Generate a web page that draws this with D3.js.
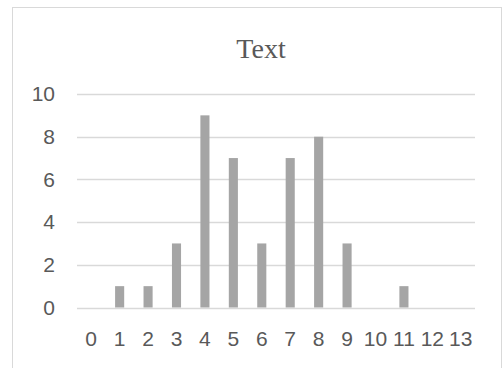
<!DOCTYPE html>
<html>
<head>
<meta charset="utf-8">
<script src="https://cdn.jsdelivr.net/npm/d3@7"></script>
<style>
  html, body { margin: 0; padding: 0; background: #fff; }
  svg { display: block; }
</style>
</head>
<body>
<svg id="chart" width="502" height="368"></svg>
<script>
// Chart data
const categories = ["0","1","2","3","4","5","6","7","8","9","10","11","12","13"];
const values = [0, 1, 1, 3, 9, 7, 3, 7, 8, 3, 0, 1, 0, 0];
const yTicks = [0, 2, 4, 6, 8, 10];
const titleText = "Text";

const svg = d3.select("#chart");
const plot = { left: 77, right: 475, top: 94, bottom: 307.5 };
const labelFont = "'Liberation Sans', Arial, sans-serif";

// Outer frame
svg.append("rect")
  .attr("x", 12.5).attr("y", 7.5)
  .attr("width", 489).attr("height", 370)
  .attr("fill", "#fff").attr("stroke", "#d9d9d9").attr("stroke-width", 1);

const x = d3.scaleBand()
  .domain(categories)
  .range([plot.left, plot.right])
  .paddingInner(0.68)
  .paddingOuter(0.34);

const y = d3.scaleLinear()
  .domain([0, 10])
  .range([plot.bottom, plot.top]);

// Horizontal gridlines
svg.append("g")
  .selectAll("line")
  .data(yTicks)
  .join("line")
  .attr("x1", plot.left).attr("x2", plot.right)
  .attr("y1", d => Math.round(y(d)) + 0.5)
  .attr("y2", d => Math.round(y(d)) + 0.5)
  .attr("stroke", "#d9d9d9").attr("stroke-width", 1.3);

// Y axis labels
const yAxis = d3.axisLeft(y).tickValues(yTicks).tickSize(0).tickPadding(0);
const gy = svg.append("g").attr("transform", "translate(55,0)").call(yAxis);
gy.select(".domain").remove();
gy.selectAll("text")
  .attr("fill", "#595959")
  .style("font-family", labelFont)
  .style("font-size", "21px");

// Bars
svg.append("g")
  .selectAll("rect")
  .data(values)
  .join("rect")
  .attr("x", (d, i) => x(categories[i]))
  .attr("width", x.bandwidth())
  .attr("y", d => y(d))
  .attr("height", d => y(0) - y(d))
  .attr("fill", "#a5a5a5");

// X axis labels
const xAxis = d3.axisBottom(x).tickSize(0).tickPadding(0);
const gx = svg.append("g").attr("transform", "translate(0,331)").call(xAxis);
gx.select(".domain").remove();
gx.selectAll("text")
  .attr("fill", "#595959")
  .style("font-family", labelFont)
  .style("font-size", "21px");

// Title
svg.append("text")
  .attr("x", 261).attr("y", 58)
  .attr("text-anchor", "middle")
  .attr("fill", "#595959")
  .style("font-family", "'Liberation Serif', 'Times New Roman', serif")
  .style("font-size", "28px")
  .text(titleText);
</script>
</body>
</html>
